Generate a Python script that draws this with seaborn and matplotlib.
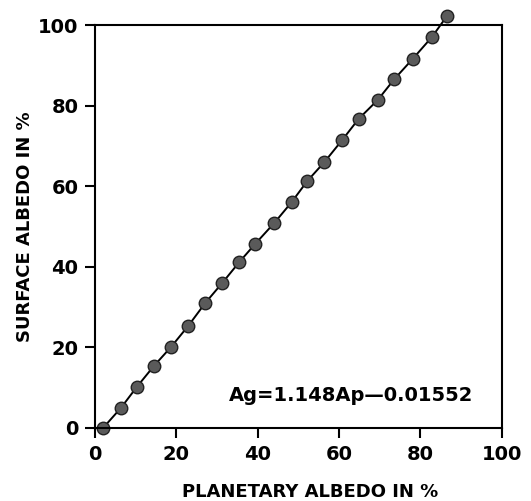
import pandas as pd
import matplotlib
matplotlib.use("Agg")
import matplotlib.pyplot as plt
import seaborn as sns

planetary = [2.0, 6.4, 10.3, 14.5, 18.7, 22.9, 27.1, 31.3, 35.5, 39.4, 44.1,
             48.3, 52.2, 56.4, 60.8, 64.8, 69.5, 73.6, 78.1, 82.8, 86.5]
surface = [0.0, 5.0, 10.2, 15.4, 20.1, 25.3, 31.0, 36.0, 41.2, 45.7, 50.9,
           56.0, 61.3, 66.0, 71.5, 76.7, 81.4, 86.6, 91.6, 97.0, 102.2]
ticks = [0, 20, 40, 60, 80, 100]

df = pd.DataFrame({"Ap": planetary, "Ag": surface})

sns.set_style("ticks")
plt.rcParams["font.family"] = ["DejaVu Sans"]
plt.rcParams["text.color"] = "black"
plt.rcParams["axes.labelcolor"] = "black"
plt.rcParams["xtick.color"] = "black"
plt.rcParams["ytick.color"] = "black"

fig = plt.figure(figsize=(5.31, 5.01), dpi=100)
ax = fig.add_axes([0.179, 0.146, 0.766, 0.804])

sns.lineplot(data=df, x="Ap", y="Ag", ax=ax, color="black", linewidth=1.4,
             marker="o", markersize=9, markerfacecolor="#5a5a5a",
             markeredgecolor="#222222", markeredgewidth=1.0, clip_on=False)

ax.set_xlim(0, 100)
ax.set_ylim(0, 100)
ax.set_xticks(ticks)
ax.set_yticks(ticks)
ax.set_xticklabels([str(t) for t in ticks], fontsize=14, fontweight="bold")
ax.set_yticklabels([str(t) for t in ticks], fontsize=14, fontweight="bold")
ax.tick_params(direction="out", length=7, width=1.5, pad=5)
for s in ax.spines.values():
    s.set_linewidth(1.5)
    s.set_color("black")

ax.set_xlabel("PLANETARY ALBEDO IN %", fontsize=13, fontweight="bold")
ax.xaxis.set_label_coords(0.53, -0.138)
ax.set_ylabel("SURFACE ALBEDO IN %", fontsize=13, fontweight="bold")
ax.yaxis.set_label_coords(-0.15, 0.5)

ax.text(93, 8, "Ag=1.148Ap\u20140.01552", ha="right", va="center",
        fontsize=14, fontweight="bold")

fig.savefig("out.png", dpi=100)
